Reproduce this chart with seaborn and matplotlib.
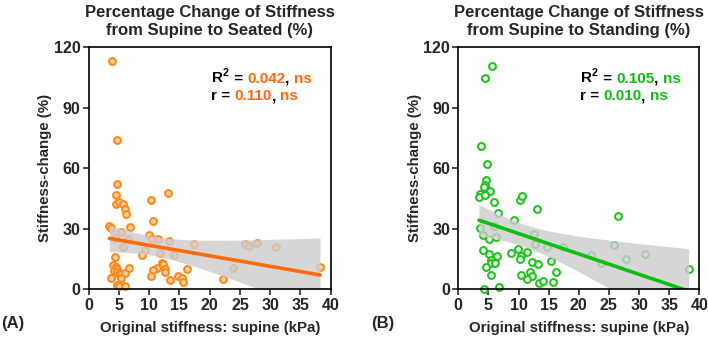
import numpy as np
import pandas as pd
import matplotlib
matplotlib.use("Agg")
import matplotlib.pyplot as plt
import seaborn as sns

# supine -> seated
seated_x = [3.86, 4.63, 4.63, 4.52, 4.52, 5.07, 5.62, 6.06, 6.17, 3.42, 3.69, 6.83,
            5.29, 4.35, 6.5, 5.62, 4.3, 4.08, 4.46, 4.63, 4.24, 4.63, 5.01, 5.4,
            6.06, 6.67, 3.69, 5.34, 4.63, 5.07, 6.06, 10.25, 13.17, 10.63, 10.0, 10.41,
            11.46, 13.34, 9.26, 8.76, 11.79, 14.05, 17.4, 12.12, 12.23, 11.35, 10.58, 12.67,
            12.67, 10.3, 13.44, 14.71, 15.43, 15.59, 16.25, 22.15, 23.8, 25.84, 26.56, 27.82,
            30.91, 38.24]
seated_y = [113.2, 73.9, 52.2, 46.6, 42.1, 43.3, 42.1, 40.0, 37.2, 31.2, 30.6, 30.9,
            28.3, 25.5, 24.8, 21.0, 16.2, 11.9, 11.1, 10.2, 9.3, 8.4, 7.6, 7.6,
            8.3, 10.7, 5.5, 5.5, 2.0, 1.7, 1.5, 44.1, 47.9, 33.9, 26.9, 25.0,
            25.0, 24.1, 19.5, 16.9, 17.9, 17.0, 22.3, 13.2, 12.4, 10.6, 9.6, 10.2,
            8.6, 6.8, 4.5, 6.8, 5.8, 3.8, 9.9, 5.3, 10.4, 22.3, 21.7, 22.8,
            21.2, 11.2]

# supine -> standing
standing_x = [5.59, 4.37, 3.76, 4.76, 4.59, 4.43, 4.2, 5.31, 3.6, 3.43, 4.48, 5.98,
              6.64, 3.6, 5.98, 4.09, 6.2, 5.03, 4.04, 5.03, 6.47, 5.37, 5.48, 6.09,
              4.59, 5.37, 4.26, 6.75, 9.18, 10.18, 10.57, 13.06, 9.96, 10.35, 10.24, 8.8,
              11.4, 12.61, 12.67, 12.23, 13.28, 10.46, 11.84, 12.23, 11.4, 13.39, 14.05, 14.77,
              15.33, 16.16, 15.66, 17.43, 22.07, 23.73, 25.84, 26.5, 27.77, 30.93, 38.23]
standing_y = [110.7, 104.6, 70.9, 62.3, 54.2, 51.6, 50.9, 48.9, 47.1, 45.6, 46.6, 43.3,
              37.9, 30.2, 31.4, 26.8, 25.8, 25.1, 19.3, 17.5, 16.7, 14.4, 12.9, 12.9,
              10.9, 7.3, 0.0, 1.3, 34.5, 44.1, 46.1, 39.7, 19.8, 16.5, 15.0, 17.9,
              18.3, 27.4, 22.6, 13.6, 12.4, 7.3, 8.4, 6.4, 5.0, 3.3, 4.1, 20.8,
              14.2, 8.4, 3.6, 21.2, 16.9, 13.1, 22.0, 36.5, 15.0, 17.7, 9.9]

titles = ["Percentage Change of Stiffness\nfrom Supine to Seated (%)",
          "Percentage Change of Stiffness\nfrom Supine to Standing (%)"]
panel_tags = ["(A)", "(B)"]
r2_text = ["0.042", "0.105"]
r_text = ["0.110", "0.010"]

sns.set_style("ticks")
plt.rcParams["font.family"] = ["Liberation Sans", "DejaVu Sans"]
plt.rcParams["font.weight"] = "bold"
plt.rcParams["axes.labelweight"] = "bold"
plt.rcParams["axes.titleweight"] = "bold"
plt.rcParams["mathtext.fontset"] = "custom"
plt.rcParams["mathtext.bf"] = "Liberation Sans:bold"
plt.rcParams["mathtext.rm"] = "Liberation Sans:bold"


def conf_band(x, y, grid):
    # analytic 95% CI of the least-squares line (what prism draws)
    x = np.asarray(x)
    y = np.asarray(y)
    n = len(x)
    slope, icpt = np.polyfit(x, y, 1)
    resid = y - (slope * x + icpt)
    s = np.sqrt(np.sum(resid ** 2) / (n - 2))
    sxx = np.sum((x - x.mean()) ** 2)
    se = s * np.sqrt(1.0 / n + (grid - x.mean()) ** 2 / sxx)
    fit = slope * grid + icpt
    return fit - 1.9996 * se, fit + 1.9996 * se


def draw_panel(ax, df, marker_edge, marker_face, line_color, title, tag, r2, r):
    # scatter first, then the grey band on top, then the fitted line
    sns.regplot(data=df, x="x", y="y", ax=ax, fit_reg=False,
                scatter_kws=dict(s=24, facecolors=marker_face, edgecolors=marker_edge,
                                 linewidths=1.5, clip_on=False, alpha=1))
    grid = np.linspace(df["x"].min(), df["x"].max(), 100)
    lo, hi = conf_band(df["x"], df["y"], grid)
    ax.fill_between(grid, lo, hi, color="#cccccc", alpha=0.8, lw=0)
    sns.regplot(data=df, x="x", y="y", ax=ax, scatter=False, ci=None,
                line_kws=dict(color=line_color, lw=2.6))

    ax.set_xlim(0, 40)
    ax.set_ylim(0, 120)
    ax.set_xticks(np.arange(0, 41, 5))
    ax.set_yticks(np.arange(0, 121, 30))
    ax.tick_params(direction="out", length=4, width=1.2, labelsize=11.5,
                   top=False, right=False, pad=2)
    for lbl in ax.get_xticklabels() + ax.get_yticklabels():
        lbl.set_fontweight("bold")
    for sp in ax.spines.values():
        sp.set_visible(True)
        sp.set_linewidth(1.2)
        sp.set_color("black")
    ax.set_xlabel("Original stiffness: supine (kPa)", fontsize=10.8, labelpad=6)
    ax.set_ylabel("Stiffness-change (%)", fontsize=10.8, labelpad=1)
    ax.set_title(title, fontsize=12, pad=9, linespacing=1.2)

    # multi-coloured stats text
    for row, (lead, val) in enumerate([(r"R$^{\mathbf{2}}$", r2), ("r", r)]):
        t = ax.text(0.505, 0.853 - row * 0.072, lead, transform=ax.transAxes,
                    fontsize=11, fontweight="bold", color="black")
        for piece, col in [(" = ", "black"), (val, line_color), (", ", "black"),
                           ("ns", line_color)]:
            t = ax.annotate(piece, xy=(1, 0), xycoords=t, va="bottom", ha="left",
                            fontsize=11, fontweight="bold", color=col)

    ax.text(-0.36, -0.14, tag, transform=ax.transAxes, fontsize=12,
            fontweight="bold", va="center", ha="left")


fig = plt.figure(figsize=(7.08, 3.38), dpi=100)
ax1 = fig.add_axes([0.1253, 0.1441, 0.3418, 0.716])
ax2 = fig.add_axes([0.6473, 0.1441, 0.3404, 0.716])

seated_df = pd.DataFrame({"x": seated_x, "y": seated_y})
standing_df = pd.DataFrame({"x": standing_x, "y": standing_y})

draw_panel(ax1, seated_df, "#ff8a1c", "#ffd2a6", "#ff6a0d", titles[0], panel_tags[0],
           r2_text[0], r_text[0])
draw_panel(ax2, standing_df, "#1fc41f", "white", "#0fbf0f", titles[1], panel_tags[1],
           r2_text[1], r_text[1])

fig.savefig("out.png", dpi=100)
